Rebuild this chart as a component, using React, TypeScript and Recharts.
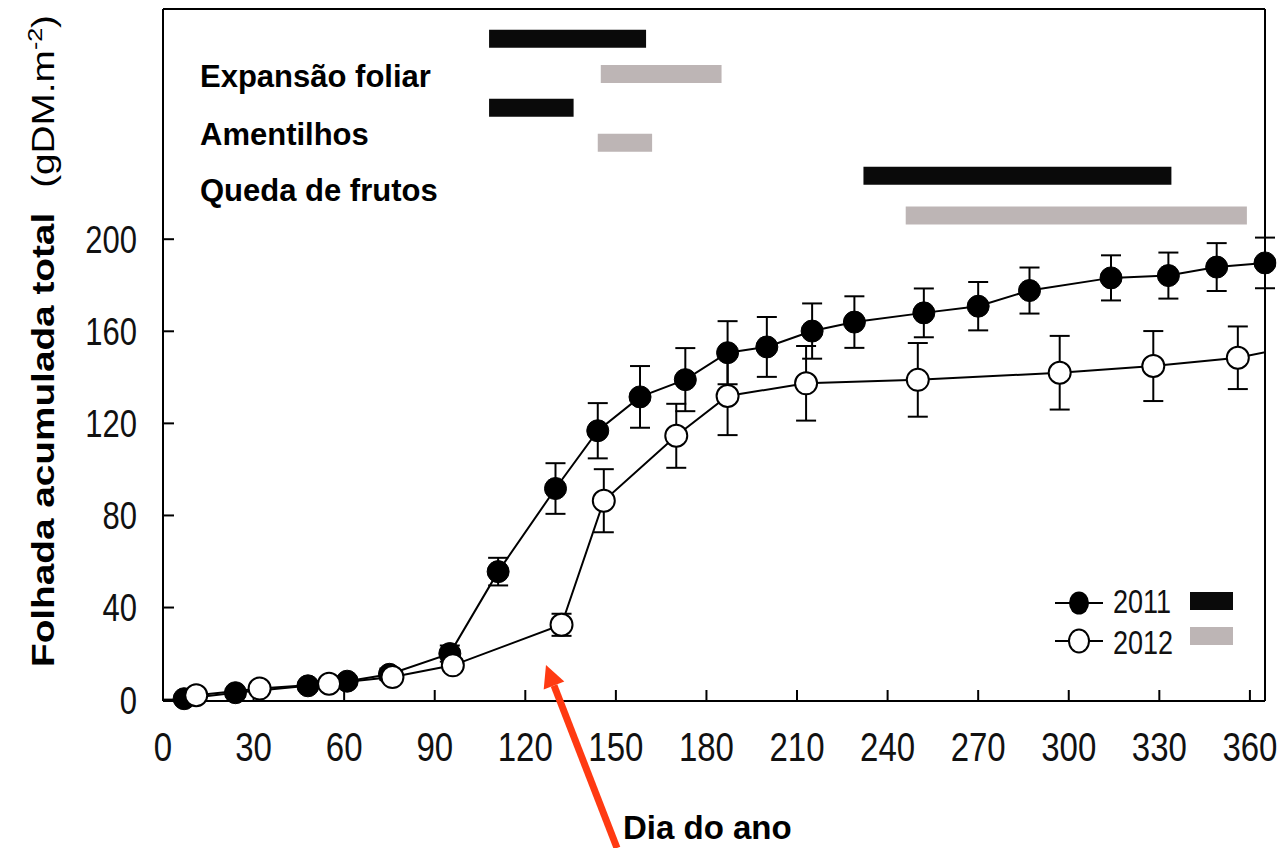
import React from "react";
import { LineChart, Line, XAxis, YAxis, ErrorBar, ReferenceArea } from "recharts";

// litterfall accumulated per day of year
const days2011 = [7, 24, 48, 61, 75, 95, 111, 130, 144, 158, 173, 187, 200, 215, 229, 252, 270, 287, 314, 333, 349, 365];
const values2011 = [0.4, 3, 6, 8, 11, 20, 55.6, 91.7, 116.8, 131.5, 139, 150.7, 153.2, 160.1, 164, 168, 170.9, 177.7, 183.2, 184.2, 187.9, 189.7];
const errors2011 = [1, 1.5, 2, 2, 2.5, 3.5, 6, 11, 12, 13.4, 13.7, 13.7, 13, 12, 11.2, 10.6, 10.5, 10, 9.8, 10, 10.4, 11];

// last 2012 point lies past the right edge of the frame (only its line shows)
const days2012 = [11, 32, 55, 76, 96, 132, 146, 170, 187, 213, 250, 297, 328, 356, 380];
const values2012 = [1.9, 4.8, 6.9, 9.8, 14.9, 32.5, 86.4, 114.6, 131.9, 137.4, 138.9, 142, 144.9, 148.5, 155];
const errors2012 = [1, 1.5, 1.5, 2, 2.5, 4.8, 13.7, 13.9, 17, 16.2, 16, 16, 15.2, 13.6, null];

// phenology periods (day of year)
const phaseLabels = ["Expansão foliar", "Amentilhos", "Queda de frutos"];
const phases2011 = [[108, 160], [108, 136], [232, 334]];
const phases2012 = [[145, 185], [144, 162], [246, 359]];

const xTicks = [0, 30, 60, 90, 120, 150, 180, 210, 240, 270, 300, 330, 360];
const yTicks = [0, 40, 80, 120, 160, 200];

const data2011 = days2011.map((day, i) => ({ day, value: values2011[i], err: errors2011[i] }));
const data2012 = days2012.map((day, i) => ({ day, value: values2012[i], err: errors2012[i] }));

const FONT = '"Liberation Sans", Arial, Helvetica, sans-serif';
const STRETCH = 1.25;
const GREY = "#bdb5b5";

// where the phase bars sit, in value units
const barTop2011 = [291, 261, 231.5];
const barTop2012 = [275.7, 245.8, 214.2];
const barH = 7.8;
const labelBaselines = [87, 145, 201];

function XTick({ x, y, payload }: any) {
  return (
    <text transform={`translate(${x},${y}) scale(1,${STRETCH})`} textAnchor="middle" dy="0.71em" fontSize={33} fontFamily={FONT} fill="#111">
      {payload.value}
    </text>
  );
}

function YTick({ x, y, payload }: any) {
  return (
    <text transform={`translate(${x},${y}) scale(1,${STRETCH})`} textAnchor="end" dy="0.36em" fontSize={31} fontFamily={FONT} fill="#111">
      {payload.value}
    </text>
  );
}

const axisStroke = { stroke: "#000", strokeWidth: 2 };

export default function App() {
  return (
    <div style={{ position: "absolute", left: 0, top: 0, width: 1283, height: 848, background: "#fff" }}>
      <LineChart width={1283} height={848} margin={{ top: 8, right: 17, bottom: 87, left: 100 }}>
        <XAxis
          xAxisId="day"
          dataKey="day"
          type="number"
          domain={[0, 365]}
          allowDataOverflow
          ticks={xTicks}
          height={60}
          tickSize={-11}
          tickMargin={42}
          axisLine={axisStroke}
          tickLine={axisStroke}
          tick={<XTick />}
        />
        <XAxis
          xAxisId="top"
          orientation="top"
          type="number"
          domain={[0, 365]}
          allowDataOverflow
          ticks={xTicks}
          height={1}
          tickSize={-11}
          axisLine={axisStroke}
          tickLine={axisStroke}
          tick={false}
        />
        <YAxis
          yAxisId="val"
          type="number"
          domain={[0, 300]}
          ticks={yTicks}
          width={63}
          tickSize={-11}
          tickMargin={37}
          axisLine={axisStroke}
          tickLine={axisStroke}
          tick={<YTick />}
        />
        <YAxis
          yAxisId="right"
          orientation="right"
          type="number"
          domain={[0, 300]}
          ticks={yTicks}
          width={1}
          tickSize={-11}
          axisLine={axisStroke}
          tickLine={axisStroke}
          tick={false}
        />

        {phases2011.map((p, i) => (
          <ReferenceArea key={`a${i}`} xAxisId="day" yAxisId="val" x1={p[0]} x2={p[1]} y1={barTop2011[i] - barH} y2={barTop2011[i]} fill="#0a0a0a" fillOpacity={1} stroke="none" />
        ))}
        {phases2012.map((p, i) => (
          <ReferenceArea key={`b${i}`} xAxisId="day" yAxisId="val" x1={p[0]} x2={p[1]} y1={barTop2012[i] - barH} y2={barTop2012[i]} fill={GREY} fillOpacity={1} stroke="none" />
        ))}

        <Line
          xAxisId="day"
          yAxisId="val"
          data={data2011}
          dataKey="value"
          name="2011"
          stroke="#000"
          strokeWidth={2}
          dot={{ r: 11, fill: "#000", stroke: "#000", strokeWidth: 1, clipDot: false }}
          activeDot={false}
          isAnimationActive={false}
        >
          <ErrorBar dataKey="err" width={10} stroke="#000" strokeWidth={2} direction="y" />
        </Line>
        <Line
          xAxisId="day"
          yAxisId="val"
          data={data2012}
          dataKey="value"
          name="2012"
          stroke="#000"
          strokeWidth={2}
          dot={{ r: 11, fill: "#fff", stroke: "#000", strokeWidth: 2, clipDot: false }}
          activeDot={false}
          isAnimationActive={false}
        >
          <ErrorBar dataKey="err" width={10} stroke="#000" strokeWidth={2} direction="y" />
        </Line>
      </LineChart>

      <svg width={1283} height={848} style={{ position: "absolute", left: 0, top: 0, pointerEvents: "none" }}>
        {phaseLabels.map((label, i) => (
          <text key={label} x={200} y={labelBaselines[i]} fontSize={31} fontWeight="bold" fontFamily={FONT} fill="#000">
            {label}
          </text>
        ))}

        <text transform="translate(54,667) rotate(-90) scale(1.25,1)" fontSize={31} fontFamily={FONT} fill="#000">
          <tspan fontWeight="bold">Folhada acumulada total</tspan>
          <tspan dx={20}>(gDM.m</tspan>
          <tspan dy={-12} fontSize={20}>-2</tspan>
          <tspan dy={12}>)</tspan>
        </text>

        <text x={623} y={839} fontSize={33} fontWeight="bold" fontFamily={FONT} fill="#000">
          Dia do ano
        </text>

        {/* legend */}
        <line x1={1055} y1={603} x2={1103} y2={603} stroke="#000" strokeWidth={2} />
        <ellipse cx={1079} cy={603} rx={10} ry={11.5} fill="#000" />
        <text transform={`translate(1113,613) scale(1,${STRETCH})`} fontSize={27} fontFamily={FONT} fill="#111">2011</text>
        <rect x={1190} y={592} width={43} height={18} fill="#0a0a0a" />
        <line x1={1055} y1={641} x2={1103} y2={641} stroke="#000" strokeWidth={2} />
        <ellipse cx={1079} cy={641} rx={10} ry={11.5} fill="#fff" stroke="#000" strokeWidth={2} />
        <text transform={`translate(1113,654) scale(1,${STRETCH})`} fontSize={27} fontFamily={FONT} fill="#111">2012</text>
        <rect x={1190} y={627} width={43} height={18} fill={GREY} />

        {/* arrow */}
        <line x1={617} y1={848} x2={554} y2={685.5} stroke="#ff3a12" strokeWidth={7} />
        <polygon points="546,665 564.3,681.5 543.7,689.5" fill="#ff3a12" />
      </svg>
    </div>
  );
}
